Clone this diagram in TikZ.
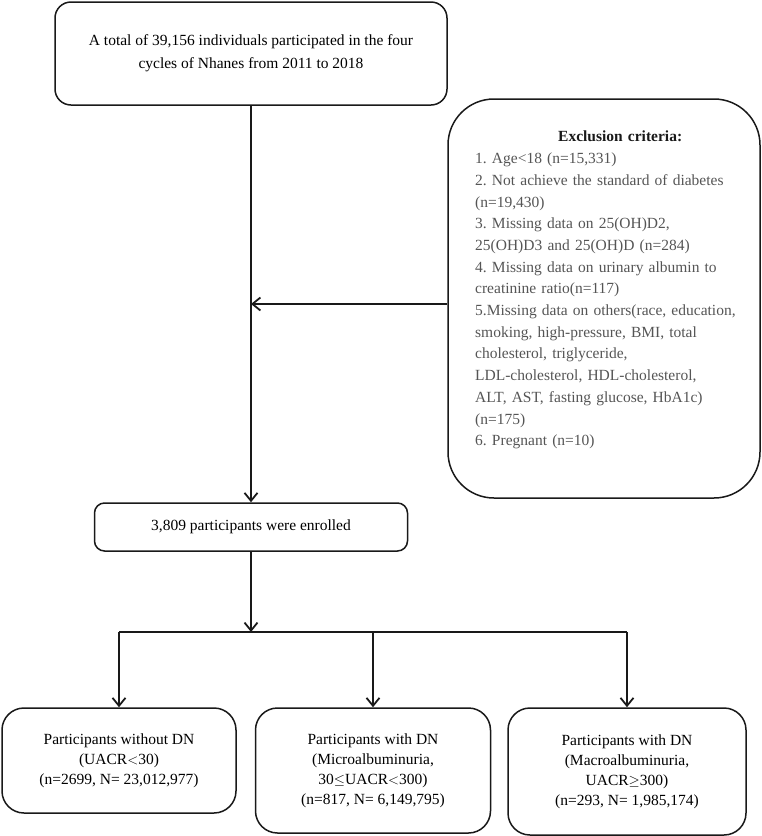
\documentclass[tikz,border=0pt]{standalone}
\usepackage{fontspec}
\setmainfont{Liberation Serif}
\usepackage{xcolor}
\usepackage{tikz}
\usetikzlibrary{positioning, arrows.meta}

\definecolor{critgray}{HTML}{555555}

\begin{document}
\frenchspacing
\begin{tikzpicture}[x=1pt, y=-1pt,
  stagebox/.style={draw=black!90, line width=1.5pt, align=center, inner sep=0pt,
    font=\fontsize{15.5}{20}\selectfont},
  arr/.style={draw=black!90, line width=1.8pt, -{Straight Barb[length=8pt,width=13pt]}}]
\useasboundingbox (0,0) rectangle (762,836);
\node[stagebox, rounded corners=16pt, minimum width=392pt, minimum height=103pt,
  font=\fontsize{15.5}{23}\selectfont] (total) at (251,53.5)
  {A total of 39,156 individuals participated in the four\\cycles of Nhanes from 2011 to 2018};
\node[stagebox, rounded corners=46pt, minimum width=312pt, minimum height=399pt] (excl) at (604,298.5) {};
\node[anchor=north west, inner sep=0pt, text width=285pt, align=left, text=critgray,
  font=\fontsize{15.5}{21.7}\selectfont] (excltext) at (475,131)
  {\makebox[290pt]{\color{black!90}\bfseries Exclusion criteria:}\\
   1. Age<18 (n=15,331)\\
   2. Not achieve the standard of diabetes\\
   (n=19,430)\\
   3. Missing data on 25(OH)D2,\\
   25(OH)D3 and 25(OH)D (n=284)\\
   4. Missing data on urinary albumin to\\
   creatinine ratio(n=117)\\
   5.Missing data on others(race, education,\\
   smoking, high-pressure, BMI, total\\
   cholesterol, triglyceride,\\
   LDL-cholesterol, HDL-cholesterol,\\
   ALT, AST, fasting glucose, HbA1c)\\
   (n=175)\\
   6. Pregnant (n=10)};
\node[stagebox, rounded corners=10pt, minimum width=313pt, minimum height=48pt] (enrolled) at (251,527)
  {3,809 participants were enrolled};
\coordinate (split) at (251,632);
\node[stagebox, rounded corners=22pt, minimum width=234pt, minimum height=105pt] (nodn) at (119,760.5)
  {Participants without DN\\(UACR$<$30)\\(n=2699, N= 23,012,977)};
\node[stagebox, rounded corners=22pt, minimum width=235pt, minimum height=125pt] (micro) at (373,770.5)
  {Participants with DN\\(Microalbuminuria,\\30$\leq$UACR$<$300)\\(n=817, N= 6,149,795)};
\node[stagebox, rounded corners=22pt, minimum width=238pt, minimum height=127pt] (macro) at (627,771.5)
  {Participants with DN\\(Macroalbuminuria,\\UACR$\geq$300)\\(n=293, N= 1,985,174)};
\draw[arr] (total) -- (enrolled);
\draw[arr] ([yshift=-5.5pt]excl.west) -- ([yshift=-5.5pt]excl.west -| total.south);
\draw[arr] (enrolled) -- (split);
\draw[draw=black!90, line width=1.8pt] (nodn.north |- split) -- (macro.north |- split);
\draw[arr] (nodn.north |- split) -- (nodn.north);
\draw[arr] (micro.north |- split) -- (micro.north);
\draw[arr] (macro.north |- split) -- (macro.north);
\end{tikzpicture}
\end{document}
